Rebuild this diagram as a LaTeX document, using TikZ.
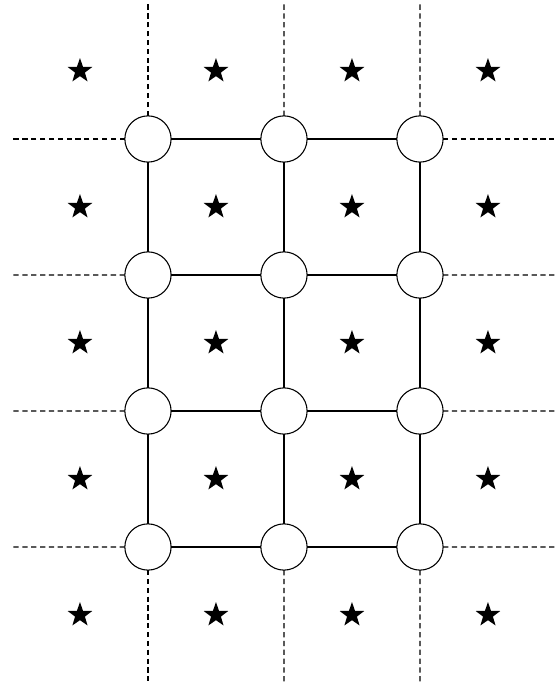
\documentclass[tikz,border=0pt]{standalone}
\usepackage{tikz}
\usetikzlibrary{positioning,shapes.geometric}
\tikzset{
    latticesite/.style={draw, circle, fill=white, inner sep=0pt, outer sep=0pt, minimum size=0.68cm, line width=0.45pt},
    latticestar/.style={star, star points=5, star point ratio=2.5, fill=black, inner sep=0pt, minimum size=0.38cm},
    latticebond/.style={line width=0.45pt},
    latticeopen/.style={line width=0.45pt, dash pattern=on 2.2pt off 1.5pt}
}
\begin{document}
\begin{tikzpicture}[node distance=1.32cm and 1.32cm]
        \useasboundingbox (-2.176,2.044) rectangle (6.0,-8.103);
        % sites
        \node[latticesite] (c11) at (0,0) {};
        \node[latticesite, right=of c11] (c12) {};
        \node[latticesite, right=of c12] (c13) {};
        \node[latticesite, below=of c11] (c21) {};
        \node[latticesite, right=of c21] (c22) {};
        \node[latticesite, right=of c22] (c23) {};
        \node[latticesite, below=of c21] (c31) {};
        \node[latticesite, right=of c31] (c32) {};
        \node[latticesite, right=of c32] (c33) {};
        \node[latticesite, below=of c31] (c41) {};
        \node[latticesite, right=of c41] (c42) {};
        \node[latticesite, right=of c42] (c43) {};
        % plaquette stars
        \foreach \sx [count=\i] in {-1,1,3,5}
            \foreach \sy [count=\j] in {1,-1,-3,-5,-7}
                \node[latticestar] (s\j\i) at (\sx,\sy) {};
        % bonds
        \draw[latticebond] (c11) -- (c12);
        \draw[latticebond] (c12) -- (c13);
        \draw[latticebond] (c21) -- (c22);
        \draw[latticebond] (c22) -- (c23);
        \draw[latticebond] (c31) -- (c32);
        \draw[latticebond] (c32) -- (c33);
        \draw[latticebond] (c41) -- (c42);
        \draw[latticebond] (c42) -- (c43);
        \draw[latticebond] (c11) -- (c21);
        \draw[latticebond] (c21) -- (c31);
        \draw[latticebond] (c31) -- (c41);
        \draw[latticebond] (c12) -- (c22);
        \draw[latticebond] (c22) -- (c32);
        \draw[latticebond] (c32) -- (c42);
        \draw[latticebond] (c13) -- (c23);
        \draw[latticebond] (c23) -- (c33);
        \draw[latticebond] (c33) -- (c43);
        % open ends
        \coordinate (top1) at (0,2);
        \coordinate (top2) at (2,2);
        \coordinate (top3) at (4,2);
        \coordinate (bot1) at (0,-8);
        \coordinate (bot2) at (2,-8);
        \coordinate (bot3) at (4,-8);
        \coordinate (lft1) at (-2,0);
        \coordinate (lft2) at (-2,-2);
        \coordinate (lft3) at (-2,-4);
        \coordinate (lft4) at (-2,-6);
        \coordinate (rgt1) at (6,0);
        \coordinate (rgt2) at (6,-2);
        \coordinate (rgt3) at (6,-4);
        \coordinate (rgt4) at (6,-6);
        \draw[latticeopen] (c11) -- (top1);
        \draw[latticeopen] (c12) -- (top2);
        \draw[latticeopen] (c13) -- (top3);
        \draw[latticeopen] (c41) -- (bot1);
        \draw[latticeopen] (c42) -- (bot2);
        \draw[latticeopen] (c43) -- (bot3);
        \draw[latticeopen] (c11) -- (lft1);
        \draw[latticeopen] (c21) -- (lft2);
        \draw[latticeopen] (c31) -- (lft3);
        \draw[latticeopen] (c41) -- (lft4);
        \draw[latticeopen] (c13) -- (rgt1);
        \draw[latticeopen] (c23) -- (rgt2);
        \draw[latticeopen] (c33) -- (rgt3);
        \draw[latticeopen] (c43) -- (rgt4);
    \end{tikzpicture}
\end{document}
